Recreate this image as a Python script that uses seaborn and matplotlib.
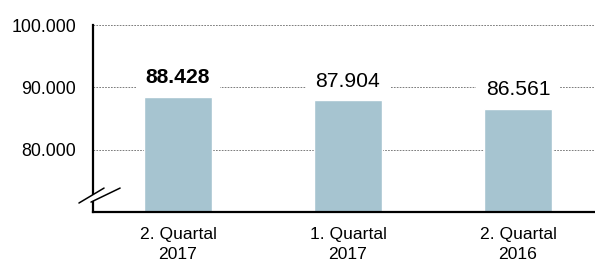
import matplotlib
matplotlib.use("Agg")
import matplotlib.pyplot as plt
import matplotlib.ticker as mticker
import seaborn as sns
import pandas as pd

# data
quartale = ["2. Quartal\n2017", "1. Quartal\n2017", "2. Quartal\n2016"]
werte = [88428, 87904, 86561]

df = pd.DataFrame({"Quartal": quartale, "Wert": werte})

sns.set_style("white")
plt.rcParams["font.family"] = ["Liberation Sans", "DejaVu Sans"]
plt.rcParams["text.color"] = "black"
plt.rcParams["xtick.color"] = "black"
plt.rcParams["ytick.color"] = "black"

fig = plt.figure(figsize=(5.95, 2.63), dpi=100)
ax = fig.add_axes([93 / 595, 1 - 212 / 263, 502 / 595, 187 / 263])

# bars above the label boxes, label boxes above the grid
sns.barplot(data=df, x="Quartal", y="Wert", color="#a6c4d0", width=0.4,
            saturation=1, ax=ax, zorder=4)

ax.set_ylim(70000, 100000)
ax.set_xlim(-0.5, 2.453)
ax.set_yticks([80000, 90000, 100000])
ax.yaxis.set_major_formatter(mticker.FuncFormatter(lambda v, p: f"{v:,.0f}".replace(",", ".")))
ax.grid(axis="y", linestyle=(0, (2, 1.5)), color="#666666", linewidth=0.6, zorder=0)
ax.set_axisbelow(True)
ax.set_xlabel("")
ax.set_ylabel("")

for s in ["top", "right"]:
    ax.spines[s].set_visible(False)
for s in ["left", "bottom"]:
    ax.spines[s].set_color("black")
    ax.spines[s].set_linewidth(1.6)
    ax.spines[s].set_zorder(5)

ax.tick_params(axis="y", length=0, pad=12, labelsize=12.8)
ax.tick_params(axis="x", length=0, pad=11, labelsize=12.6)
for lbl in ax.get_xticklabels():
    lbl.set_linespacing(1.4)

# value labels above bars
for i, v in enumerate(werte):
    ax.annotate(f"{v:,.0f}".replace(",", "."), (i, v), xytext=(0, 7),
                textcoords="offset points", ha="center", va="bottom",
                fontsize=15.2, fontweight="bold" if i == 0 else "normal",
                bbox=dict(boxstyle="square,pad=0.45", fc="white", ec="none"),
                zorder=3)

# axis break marks
gap = plt.Polygon([(-0.028, 0.048), (0.022, 0.128), (0.054, 0.128), (-0.004, 0.053)],
                  closed=True, transform=ax.transAxes, fc="white", ec="none",
                  clip_on=False, zorder=6)
ax.add_patch(gap)
ax.plot([-0.028, 0.022], [0.048, 0.128], transform=ax.transAxes, color="black",
        lw=1.1, clip_on=False, zorder=7)
ax.plot([-0.004, 0.054], [0.053, 0.128], transform=ax.transAxes, color="black",
        lw=1.1, clip_on=False, zorder=7)

fig.savefig("out.png", dpi=100)
